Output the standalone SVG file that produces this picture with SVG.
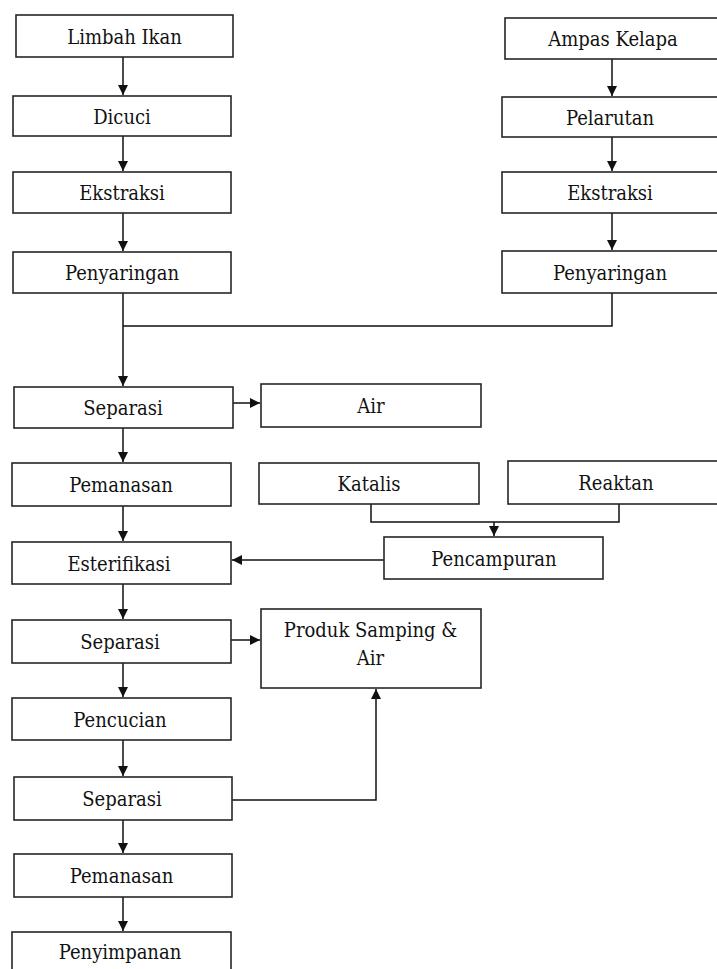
<svg xmlns="http://www.w3.org/2000/svg" width="717" height="969" viewBox="0 0 717 969">
<style>
.box rect{fill:#fff;stroke:#262626;stroke-width:1.6}
.box text{font-family:'DejaVu Serif Condensed','DejaVu Serif',serif;font-stretch:condensed;font-size:20px;fill:#111;text-anchor:middle}
.conn path{fill:none;stroke:#111;stroke-width:1.5}
</style>
<defs>
<marker id="ah" markerUnits="userSpaceOnUse" markerWidth="12" markerHeight="11" refX="10" refY="5.5" orient="auto">
<path d="M0,0.5 L10,5.5 L0,10.5 z" fill="#111"/>
</marker>
</defs>
<rect width="717" height="969" fill="#fff"/>
<g class="conn">
<path d="M123,57 V95" marker-end="url(#ah)"/>
<path d="M123,136 V171" marker-end="url(#ah)"/>
<path d="M123,213 V251" marker-end="url(#ah)"/>
<path d="M123,293 V386" marker-end="url(#ah)"/>
<path d="M612,293 V326 H123"/>
<path d="M612,59 V96" marker-end="url(#ah)"/>
<path d="M612,137 V171" marker-end="url(#ah)"/>
<path d="M612,213 V250" marker-end="url(#ah)"/>
<path d="M233,403 H260" marker-end="url(#ah)"/>
<path d="M123,428 V462" marker-end="url(#ah)"/>
<path d="M123,506 V541" marker-end="url(#ah)"/>
<path d="M371,504 V522 H619 V504"/>
<path d="M494,522 V536" marker-end="url(#ah)"/>
<path d="M384,560 H232" marker-end="url(#ah)"/>
<path d="M123,584 V619" marker-end="url(#ah)"/>
<path d="M231,640 H260" marker-end="url(#ah)"/>
<path d="M123,663 V697" marker-end="url(#ah)"/>
<path d="M123,740 V776" marker-end="url(#ah)"/>
<path d="M232,800 H376 V689" marker-end="url(#ah)"/>
<path d="M123,820 V853" marker-end="url(#ah)"/>
<path d="M123,897 V931" marker-end="url(#ah)"/>
</g>
<g id="n1" class="box"><rect x="16" y="15" width="217" height="42"/><text x="124.5" y="44">Limbah Ikan</text></g>
<g id="n2" class="box"><rect x="13" y="96" width="218" height="40"/><text x="122" y="124">Dicuci</text></g>
<g id="n3" class="box"><rect x="13" y="172" width="218" height="41"/><text x="122" y="200">Ekstraksi</text></g>
<g id="n4" class="box"><rect x="13" y="252" width="218" height="41"/><text x="122" y="280">Penyaringan</text></g>
<g id="n5" class="box"><rect x="505" y="18" width="220" height="41"/><text x="613" y="46">Ampas Kelapa</text></g>
<g id="n6" class="box"><rect x="502" y="97" width="222" height="40"/><text x="610" y="125">Pelarutan</text></g>
<g id="n7" class="box"><rect x="502" y="172" width="222" height="41"/><text x="610" y="200">Ekstraksi</text></g>
<g id="n8" class="box"><rect x="502" y="251" width="222" height="42"/><text x="610" y="280">Penyaringan</text></g>
<g id="n9" class="box"><rect x="14" y="387" width="219" height="41"/><text x="123" y="415">Separasi</text></g>
<g id="n10" class="box"><rect x="261" y="384" width="220" height="43"/><text x="371" y="413">Air</text></g>
<g id="n11" class="box"><rect x="12" y="463" width="219" height="43"/><text x="121" y="492">Pemanasan</text></g>
<g id="n12" class="box"><rect x="259" y="463" width="220" height="41"/><text x="369" y="491">Katalis</text></g>
<g id="n13" class="box"><rect x="508" y="461" width="220" height="43"/><text x="616" y="490">Reaktan</text></g>
<g id="n14" class="box"><rect x="384" y="537" width="219" height="42"/><text x="494" y="566">Pencampuran</text></g>
<g id="n15" class="box"><rect x="12" y="542" width="219" height="42"/><text x="119" y="571">Esterifikasi</text></g>
<g id="n16" class="box"><rect x="12" y="620" width="219" height="43"/><text x="120" y="649">Separasi</text></g>
<g id="n17" class="box"><rect x="261" y="609" width="220" height="79"/><text x="370.5" y="637">Produk Samping &amp;</text><text x="370.5" y="665">Air</text></g>
<g id="n18" class="box"><rect x="12" y="698" width="219" height="42"/><text x="120" y="727">Pencucian</text></g>
<g id="n19" class="box"><rect x="14" y="777" width="218" height="43"/><text x="122" y="806">Separasi</text></g>
<g id="n20" class="box"><rect x="14" y="854" width="218" height="43"/><text x="121.5" y="883">Pemanasan</text></g>
<g id="n21" class="box"><rect x="12" y="932" width="219" height="50"/><text x="120" y="959">Penyimpanan</text></g>
</svg>
